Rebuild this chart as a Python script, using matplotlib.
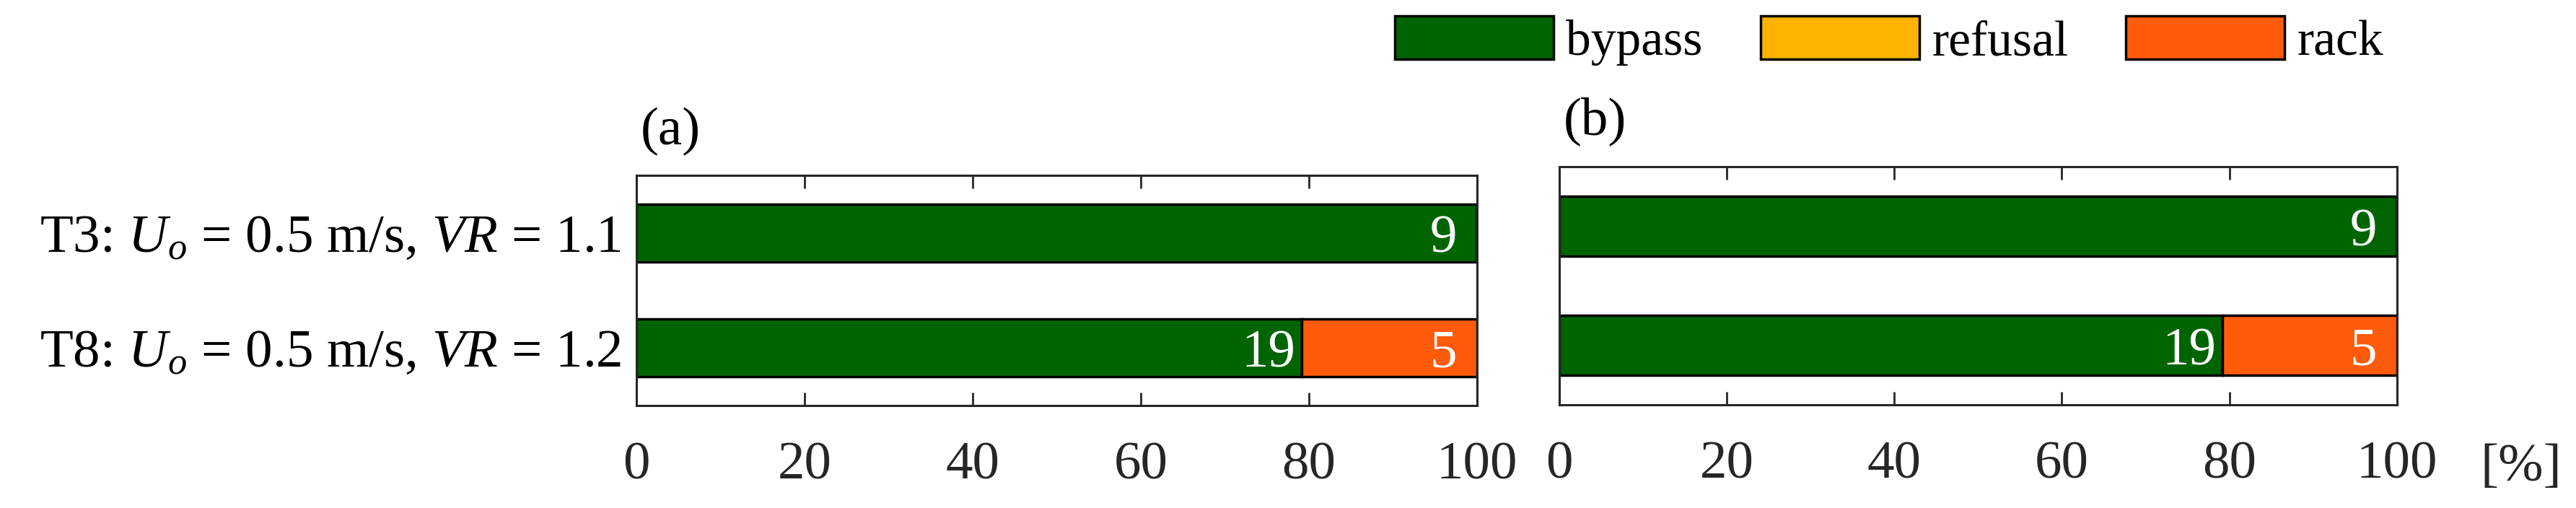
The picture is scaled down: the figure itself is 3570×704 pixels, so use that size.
import numpy as np
import matplotlib
matplotlib.use('Agg')
import matplotlib.pyplot as plt
from matplotlib.patches import Patch

# --- datos ---
casos = [r'T3: $U_o$ = 0.5 m/s, $VR$ = 1.1',
         r'T8: $U_o$ = 0.5 m/s, $VR$ = 1.2']
categorias = ['bypass', 'refusal', 'rack']
colores = ['#006400', '#FFB300', '#FF5B0B']

# conteos por caso (bypass, refusal, rack)
conteos_a = np.array([[9, 0, 0],
                      [19, 0, 5]])
conteos_b = np.array([[9, 0, 0],
                      [19, 0, 5]])

marcas_x = [0, 20, 40, 60, 80, 100]

plt.rcParams['font.family'] = ['Liberation Serif', 'DejaVu Serif']
plt.rcParams['mathtext.fontset'] = 'custom'
plt.rcParams['mathtext.rm'] = 'Liberation Serif'
plt.rcParams['mathtext.it'] = 'Liberation Serif:italic'

FS = 54
COLOR_EJE = '#262626'

fig = plt.figure(figsize=(35.7, 7.04), dpi=100)
ax_a = fig.add_axes([0.2471, 0.2017, 0.3263, 0.4531])
ax_b = fig.add_axes([0.6053, 0.2031, 0.3252, 0.4688])


def dibujar_panel(ax, conteos, etiqueta, mostrar_y):
    y = np.arange(1, len(casos) + 1)
    pct = conteos / conteos.sum(axis=1, keepdims=True) * 100
    izquierda = np.zeros(len(casos))
    for j, cat in enumerate(categorias):
        ax.barh(y, pct[:, j], left=izquierda, height=0.5, color=colores[j],
                edgecolor='black', linewidth=2.5, label=cat, zorder=2)
        for i in range(len(casos)):
            if conteos[i, j] > 0:
                fin = izquierda[i] + pct[i, j]
                ax.text(fin - 4, y[i] + 0.165, str(conteos[i, j]), color='white',
                        ha='center', va='baseline', fontsize=FS, zorder=3)
        izquierda = izquierda + pct[:, j]

    ax.set_xlim(0, 100)
    ax.set_ylim(2.5, 0.5)
    ax.set_xticks(marcas_x)
    ax.set_yticks(y)
    if mostrar_y:
        ax.set_yticklabels(casos)
    else:
        ax.set_yticklabels([])
    ax.tick_params(axis='x', direction='in', top=True, bottom=True, length=13,
                   width=2, color=COLOR_EJE, labelsize=FS, pad=36, labelcolor='#262626')
    ax.tick_params(axis='y', direction='in', left=True, right=True, length=13,
                   width=2, color=COLOR_EJE, labelsize=FS, pad=15, labelcolor='black')
    for s in ax.spines.values():
        s.set_linewidth(2.2)
        s.set_color(COLOR_EJE)
        s.set_zorder(4)
    ax.text(0.005, 1.135, etiqueta, transform=ax.transAxes, fontsize=FS,
            ha='left', va='baseline')


dibujar_panel(ax_a, conteos_a, '(a)', True)
dibujar_panel(ax_b, conteos_b, '(b)', False)

fig.text(3437 / 3570, 1 - 648 / 704, '[%]', fontsize=FS, ha='left', va='center',
         color='#262626')

handles = [Patch(facecolor=c, edgecolor='black', linewidth=2.5) for c in colores]
fig.legend(handles, categorias, loc='upper left', bbox_to_anchor=(1933 / 3570, 1 - 22 / 704),
           ncol=3, frameon=False, fontsize=50, handlelength=3.17, handleheight=0.96,
           handletextpad=0.25, columnspacing=1.15, borderpad=0, borderaxespad=0)

fig.savefig('out.png', dpi=100)
